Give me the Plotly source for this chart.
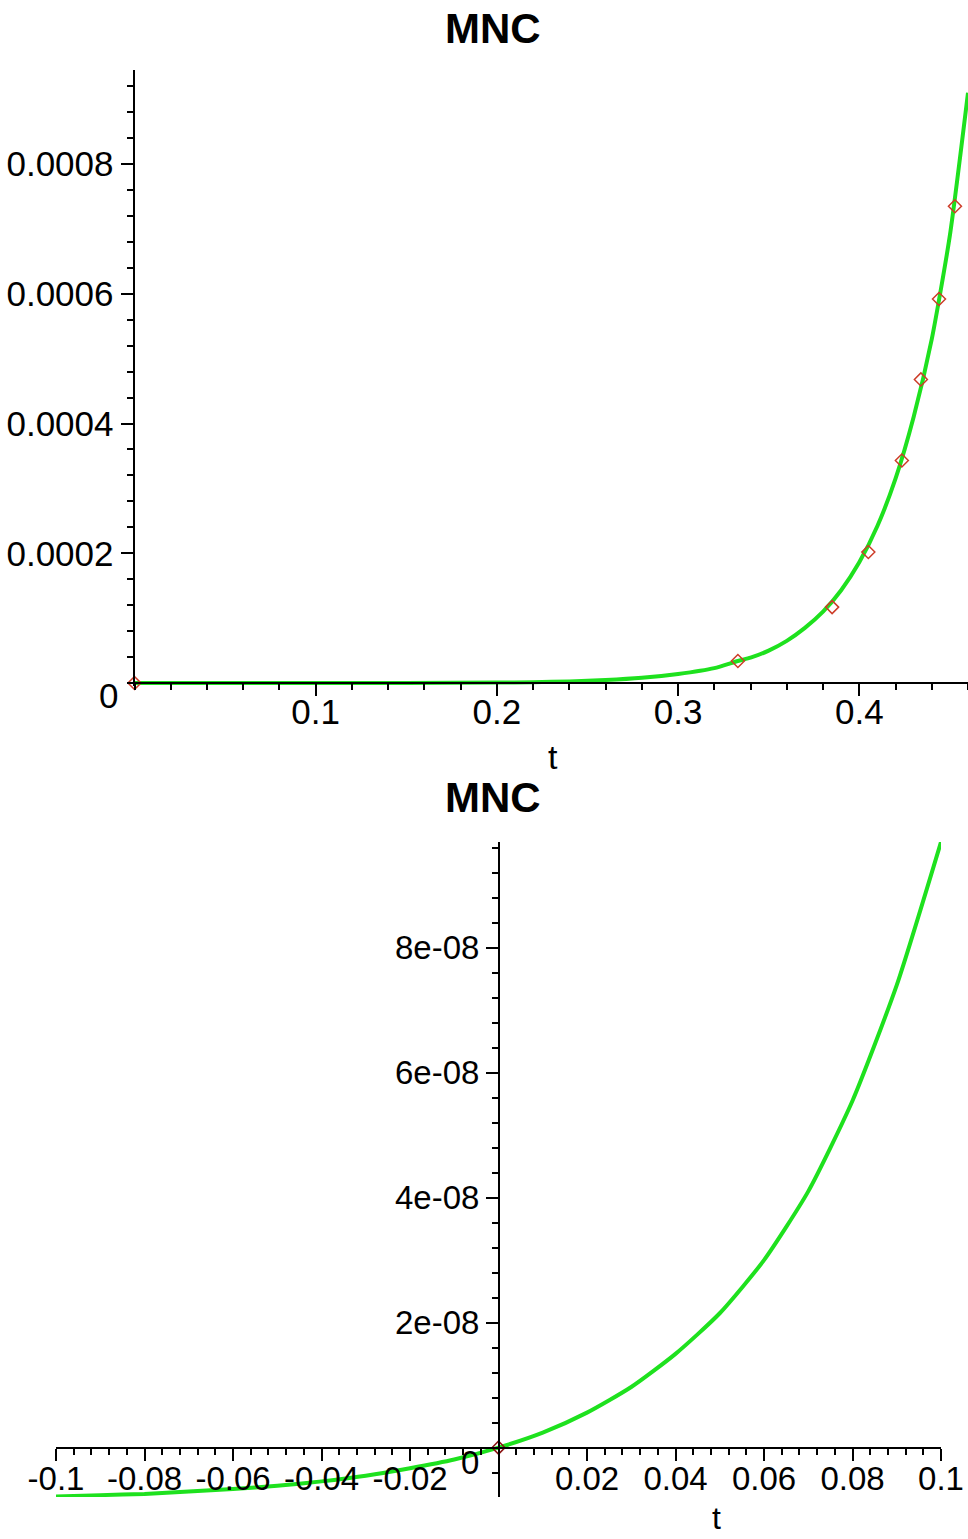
import plotly.graph_objects as go

# ---------------- data ----------------
# top panel: MNC curve for t in [0, 0.46]
t_top = [0.0, 0.05, 0.10, 0.15, 0.20, 0.22, 0.24, 0.26, 0.28, 0.30, 0.32, 0.333,
         0.34, 0.35, 0.36, 0.37, 0.38, 0.39, 0.40, 0.41, 0.42, 0.43, 0.44, 0.45, 0.46]
mnc_top = [0.0, 0.00000001, 0.00000005, 0.0000002, 0.0000007, 0.0000013, 0.0000025,
           0.0000045, 0.000008, 0.000014, 0.000023, 0.000034, 0.000039, 0.000050,
           0.000065, 0.000085, 0.000110, 0.000143, 0.000186, 0.000242, 0.000315,
           0.000410, 0.000530, 0.000690, 0.000910]

# data points (diamonds)
t_pts = [0.0, 0.333, 0.385, 0.405, 0.4235, 0.434, 0.444, 0.4528]
mnc_pts = [0.0, 0.000034, 0.000117, 0.000202, 0.000343, 0.000468, 0.000592, 0.000735]

# bottom panel: MNC curve for t in [-0.1, 0.1]
t_bot = [-0.10, -0.09, -0.08, -0.07, -0.06, -0.05, -0.04, -0.03, -0.02, -0.01, 0.0,
         0.01, 0.02, 0.03, 0.04, 0.05, 0.06, 0.07, 0.08, 0.09, 0.10]
mnc_bot = [-0.78e-8, -0.76e-8, -0.74e-8, -0.70e-8, -0.66e-8, -0.61e-8, -0.54e-8,
           -0.45e-8, -0.33e-8, -0.19e-8, 0.0, 0.24e-8, 0.56e-8, 0.97e-8, 1.50e-8,
           2.15e-8, 3.00e-8, 4.10e-8, 5.55e-8, 7.40e-8, 9.69e-8]

# ticks
top_x_ticks = [0.1, 0.2, 0.3, 0.4]
top_x_labels = ["0.1", "0.2", "0.3", "0.4"]
top_y_ticks = [0.0002, 0.0004, 0.0006, 0.0008]
top_y_labels = ["0.0002", "0.0004", "0.0006", "0.0008"]
bot_x_ticks = [-0.1, -0.08, -0.06, -0.04, -0.02, 0.02, 0.04, 0.06, 0.08, 0.1]
bot_x_labels = ["-0.1", "-0.08", "-0.06", "-0.04", "-0.02", "0.02", "0.04", "0.06", "0.08", "0.1"]
bot_y_ticks = [2e-8, 4e-8, 6e-8, 8e-8]
bot_y_labels = ["2e-08", "4e-08", "6e-08", "8e-08"]

title_text = "MNC"
x_title = "t"

# ---------------- layout helpers ----------------
W, H = 968, 1539
def px_x(p):
    return p / W
def px_y(p):
    return 1 - p / H

GREEN = "rgb(30,225,30)"
RED = "rgb(205,60,40)"
FONT = "Liberation Sans, Arial, sans-serif"

fig = go.Figure()

fig.add_trace(go.Scatter(x=t_top, y=mnc_top, mode="lines",
                         line=dict(color=GREEN, width=4, shape="spline", smoothing=0.6),
                         xaxis="x", yaxis="y", hoverinfo="skip"))
fig.add_trace(go.Scatter(x=t_pts, y=mnc_pts, mode="markers",
                         marker=dict(symbol="diamond-open", size=10, color=RED,
                                     line=dict(width=1.5, color=RED)),
                         cliponaxis=False, xaxis="x", yaxis="y"))

fig.add_trace(go.Scatter(x=t_bot, y=mnc_bot, mode="lines",
                         line=dict(color=GREEN, width=4, shape="spline", smoothing=0.6),
                         xaxis="x2", yaxis="y2", hoverinfo="skip"))
bx = [t for t, v in zip(t_pts, mnc_pts) if -0.1 <= t <= 0.1]
by = [v for t, v in zip(t_pts, mnc_pts) if -0.1 <= t <= 0.1]
fig.add_trace(go.Scatter(x=bx, y=by, mode="markers",
                         marker=dict(symbol="diamond-open", size=10, color="rgb(140,20,20)",
                                     line=dict(width=1.5, color="rgb(140,20,20)")),
                         cliponaxis=False, xaxis="x2", yaxis="y2"))

axis_common = dict(showgrid=False, zeroline=False, showline=True, linecolor="black",
                   linewidth=2, ticks="outside", ticklen=12, tickwidth=2,
                   tickcolor="black", tickmode="array", fixedrange=True,
                   automargin=False)

def minor(dtick, tick0=0):
    return dict(ticks="outside", ticklen=6, tickwidth=2, tickcolor="black",
                tickmode="linear", tick0=tick0, dtick=dtick, showgrid=False)

# top panel: y range extended slightly below zero so the curve is not clipped
top_y_lo, top_y_hi = -0.0000046, 0.000945
fig.update_layout(
    xaxis=dict(axis_common, domain=[px_x(134.5), 1.0], range=[0, 0.46],
               anchor="free", position=px_y(683),
               tickvals=top_x_ticks, ticktext=top_x_labels,
               tickfont=dict(family=FONT, size=35, color="black"),
               ticklabelstandoff=-14,
               minor=minor(0.02)),
    yaxis=dict(axis_common, domain=[px_y(686), px_y(70)], range=[top_y_lo, top_y_hi],
               anchor="x",
               tickvals=top_y_ticks, ticktext=top_y_labels,
               tickfont=dict(family=FONT, size=35, color="black"),
               minor=minor(0.00004)),
    xaxis2=dict(axis_common, domain=[px_x(56), px_x(941)], range=[-0.1, 0.1],
                anchor="free", position=px_y(1448),
                tickvals=bot_x_ticks, ticktext=bot_x_labels,
                tickfont=dict(family=FONT, size=33, color="black"),
                ticklabelstandoff=-11,
                minor=minor(0.004)),
    yaxis2=dict(axis_common, domain=[px_y(1497), px_y(842)], range=[-7.9e-9, 9.69e-8],
                anchor="free", position=px_x(499),
                tickvals=bot_y_ticks, ticktext=bot_y_labels,
                tickfont=dict(family=FONT, size=33, color="black"),
                minor=minor(4e-9)),
)

annotations = [
    dict(text="<b>" + title_text + "</b>", x=px_x(493), y=px_y(28), xref="paper", yref="paper",
         showarrow=False, font=dict(family=FONT, size=42, color="black"),
         xanchor="center", yanchor="middle"),
    dict(text="<b>" + title_text + "</b>", x=px_x(493), y=px_y(797), xref="paper", yref="paper",
         showarrow=False, font=dict(family=FONT, size=42, color="black"),
         xanchor="center", yanchor="middle"),
    dict(text=x_title, x=px_x(553), y=px_y(757), xref="paper", yref="paper",
         showarrow=False, font=dict(family=FONT, size=34, color="black"),
         xanchor="center", yanchor="middle"),
    dict(text=x_title, x=px_x(716), y=px_y(1518), xref="paper", yref="paper",
         showarrow=False, font=dict(family=FONT, size=32, color="black"),
         xanchor="center", yanchor="middle"),
    dict(text="0", x=px_x(108), y=px_y(695), xref="paper", yref="paper",
         showarrow=False, font=dict(family=FONT, size=35, color="black"),
         xanchor="center", yanchor="middle"),
    dict(text="0", x=px_x(470), y=px_y(1462), xref="paper", yref="paper",
         showarrow=False, font=dict(family=FONT, size=33, color="black"),
         xanchor="center", yanchor="middle"),
]

fig.update_layout(width=W, height=H, margin=dict(l=0, r=0, t=0, b=0, pad=0),
                  paper_bgcolor="white", plot_bgcolor="white", showlegend=False,
                  annotations=annotations)

fig.write_html("out.html")
